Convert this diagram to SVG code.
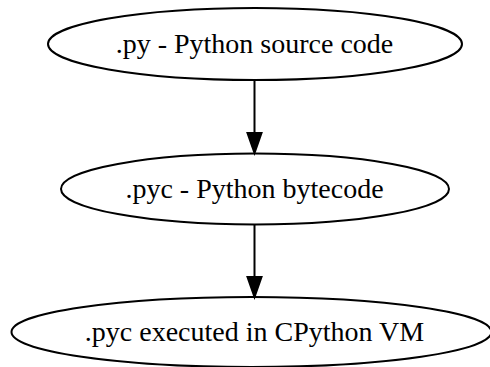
<svg xmlns="http://www.w3.org/2000/svg" width="490" height="367" viewBox="0 0 490 367">
<style>
.n ellipse{fill:none;stroke:#000;stroke-width:2}
.n text{font-family:"Liberation Serif","Times New Roman",serif;font-size:28px;fill:#000;text-anchor:middle}
.e line{stroke:#000;stroke-width:2}
.e polygon{fill:#000;stroke:#000;stroke-width:2}
</style>
<rect width="490" height="367" fill="#fff"/>
<g id="py" class="n"><ellipse cx="255" cy="44" rx="207" ry="36"/><text x="254.5" y="52.5">.py - Python source code</text></g>
<g id="pyc" class="n"><ellipse cx="255" cy="189" rx="194" ry="35.5"/><text x="254.5" y="197.5">.pyc - Python bytecode</text></g>
<g id="vm" class="n"><ellipse cx="251.5" cy="332" rx="240" ry="35"/><text x="254.5" y="341">.pyc executed in CPython VM</text></g>
<g id="connectors" class="e">
<line x1="254.5" y1="80" x2="254.5" y2="133"/><polygon points="247.5,133 261.5,133 254.5,153"/>
<line x1="254.5" y1="225" x2="254.5" y2="277"/><polygon points="247.5,277 261.5,277 254.5,297"/>
</g>
</svg>
